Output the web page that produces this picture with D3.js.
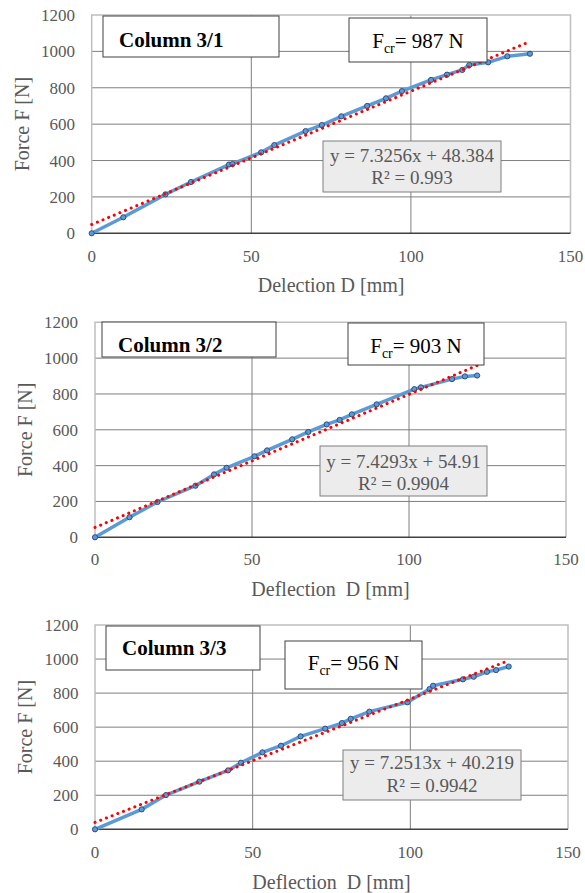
<!DOCTYPE html>
<html>
<head>
  <meta charset="utf-8">
  <script src="https://cdn.jsdelivr.net/npm/d3@7"></script>
  <style>
    body { margin: 0; background: #fff; }
    svg text { font-family: "Liberation Serif", "DejaVu Serif", serif; }
  </style>
</head>
<body>
<script>
  // Werte
  const defl1 = [0, 9.9, 23.1, 31.1, 43.0, 44.1, 53.1, 57.2, 67.0, 72.1, 78.2, 86.3, 92.2, 97.2, 106.3, 111.3, 116.1, 118.3, 124.2, 130.2, 137.3];
  const force1 = [0, 88, 214, 282, 378, 381, 445, 485, 562, 595, 643, 700, 742, 782, 843, 872, 898, 925, 940, 973, 987];

  const defl2 = [0, 11.0, 19.9, 32.0, 37.9, 41.9, 50.8, 54.8, 62.8, 67.9, 73.8, 77.9, 81.8, 89.7, 101.7, 103.8, 113.7, 117.8, 121.7];
  const force2 = [0, 112, 197, 288, 351, 388, 452, 485, 547, 588, 630, 655, 686, 742, 827, 837, 883, 898, 903];

  const defl3 = [0, 14.8, 22.5, 33.1, 42.2, 46.3, 53.1, 59.0, 65.2, 73.0, 78.3, 81.1, 87.0, 99.1, 106.1, 107.2, 116.7, 120.1, 124.3, 127.2, 131.2];
  const force3 = [0, 117, 201, 280, 346, 391, 452, 491, 546, 591, 624, 649, 691, 746, 824, 843, 881, 896, 925, 935, 956];

  const titles = ["Column 3/1", "Column 3/2", "Column 3/3"];
  const xTitles = ["Delection D [mm]", "Deflection  D [mm]", "Deflection  D [mm]"];
  const fcrValues = [987, 903, 956];
  const slopes = [7.3256, 7.4293, 7.2513];
  const intercepts = [48.384, 54.91, 40.219];
  const slopeLabels = ["7.3256", "7.4293", "7.2513"];
  const interceptLabels = ["48.384", "54.91", "40.219"];
  const r2Labels = ["0.993", "0.9904", "0.9942"];

  const xTicks = [0, 50, 100, 150];
  const yTicks = [0, 200, 400, 600, 800, 1000, 1200];

  // Layout pro Diagramm (Pixel)
  const layouts = [
    { left: 91.7, right: 570.5, top: 15, bottom: 233.3, tickY: 262, titleY: 292, yTickX: 75, yTitleX: 22,
      tBox: [103, 16, 176, 41], tBase: 47, fBox: [349, 18, 138, 44], fBase: 48,
      eBox: [323, 141, 178, 51], eBase: [162, 184] },
    { left: 95, right: 566, top: 322.3, bottom: 537.3, tickY: 565, titleY: 596, yTickX: 78, yTitleX: 25,
      tBox: [102, 322, 174, 35], tBase: 352, fBox: [348, 323, 136, 42], fBase: 353,
      eBox: [320, 446, 167, 50], eBase: [468, 490] },
    { left: 95, right: 568, top: 625, bottom: 829.3, tickY: 858, titleY: 889, yTickX: 78.5, yTitleX: 25,
      tBox: [106, 626, 154, 44], tBase: 655, fBox: [285, 641, 137, 48], fBase: 670,
      eBox: [343, 750, 178, 50], eBase: [769, 792] }
  ];

  const series = [[defl1, force1], [defl2, force2], [defl3, force3]];

  const svg = d3.select("body").append("svg")
    .attr("width", 585)
    .attr("height", 893)
    .attr("font-family", "Liberation Serif, DejaVu Serif, serif");

  series.forEach(function (s, i) {
    const L = layouts[i];
    const data = s[0].map(function (d, j) { return { x: d, y: s[1][j] }; });

    const x = d3.scaleLinear().domain([0, 150]).range([L.left, L.right]);
    const y = d3.scaleLinear().domain([0, 1200]).range([L.bottom, L.top]);

    const g = svg.append("g");

    // Gitterlinien
    g.selectAll(".hgrid")
      .data(yTicks.slice(1, -1))
      .enter().append("line")
      .attr("x1", L.left).attr("x2", L.right)
      .attr("y1", function (d) { return y(d); })
      .attr("y2", function (d) { return y(d); })
      .attr("stroke", "#7f7f7f").attr("stroke-width", 1);

    g.selectAll(".vgrid")
      .data(xTicks.slice(1, -1))
      .enter().append("line")
      .attr("y1", L.top).attr("y2", L.bottom)
      .attr("x1", function (d) { return x(d); })
      .attr("x2", function (d) { return x(d); })
      .attr("stroke", "#7f7f7f").attr("stroke-width", 1);

    // Rahmen
    g.append("path")
      .attr("d", "M" + L.left + "," + L.bottom + "V" + L.top + "H" + L.right + "V" + L.bottom)
      .attr("fill", "none").attr("stroke", "#bfbfbf").attr("stroke-width", 1.5);
    g.append("line")
      .attr("x1", L.left).attr("x2", L.right)
      .attr("y1", L.bottom).attr("y2", L.bottom)
      .attr("stroke", "#404040").attr("stroke-width", 1.5);

    // Achsenbeschriftungen
    g.selectAll(".xt")
      .data(xTicks)
      .enter().append("text")
      .attr("x", function (d) { return x(d); })
      .attr("y", L.tickY)
      .attr("text-anchor", "middle")
      .attr("font-size", "17px")
      .attr("fill", "#595959")
      .text(function (d) { return d; });

    g.selectAll(".yt")
      .data(yTicks)
      .enter().append("text")
      .attr("x", L.yTickX)
      .attr("y", function (d) { return y(d) + 6; })
      .attr("text-anchor", "end")
      .attr("font-size", "17px")
      .attr("fill", "#595959")
      .text(function (d) { return d; });

    g.append("text")
      .attr("x", (L.left + L.right) / 2)
      .attr("y", L.titleY)
      .attr("text-anchor", "middle")
      .attr("font-size", "20px")
      .attr("fill", "#595959")
      .style("white-space", "pre")
      .text(xTitles[i]);

    g.append("text")
      .attr("transform", "translate(" + (L.yTitleX + 7) + "," + ((L.top + L.bottom) / 2) + ") rotate(-90)")
      .attr("text-anchor", "middle")
      .attr("font-size", "20px")
      .attr("fill", "#595959")
      .text("Force F [N]");

    // Messkurve
    const line = d3.line()
      .x(function (d) { return x(d.x); })
      .y(function (d) { return y(d.y); });

    g.append("path")
      .datum(data)
      .attr("d", line)
      .attr("fill", "none")
      .attr("stroke", "#5b9bd5")
      .attr("stroke-width", 3.5)
      .attr("stroke-linejoin", "round");

    g.selectAll(".pt")
      .data(data)
      .enter().append("circle")
      .attr("cx", function (d) { return x(d.x); })
      .attr("cy", function (d) { return y(d.y); })
      .attr("r", 2.6)
      .attr("fill", "#5b9bd5")
      .attr("stroke", "#264478")
      .attr("stroke-width", 0.9);

    // lineare Trendlinie
    const xMax = d3.max(s[0]);
    const trend = [0, xMax].map(function (d) { return { x: d, y: slopes[i] * d + intercepts[i] }; });
    g.append("path")
      .datum(trend)
      .attr("d", line)
      .attr("fill", "none")
      .attr("stroke", "#ff0000")
      .attr("stroke-width", 3)
      .attr("stroke-linecap", "round")
      .attr("stroke-dasharray", "0.1,6");

    // Titelbox
    g.append("rect")
      .attr("x", L.tBox[0]).attr("y", L.tBox[1])
      .attr("width", L.tBox[2]).attr("height", L.tBox[3])
      .attr("fill", "#fff").attr("stroke", "#404040").attr("stroke-width", 1);
    g.append("text")
      .attr("x", L.tBox[0] + 16)
      .attr("y", L.tBase)
      .attr("font-size", "21px")
      .attr("font-weight", "bold")
      .attr("fill", "#000")
      .text(titles[i]);

    // F_cr Box
    g.append("rect")
      .attr("x", L.fBox[0]).attr("y", L.fBox[1])
      .attr("width", L.fBox[2]).attr("height", L.fBox[3])
      .attr("fill", "#fff").attr("stroke", "#404040").attr("stroke-width", 1);
    const ft = g.append("text")
      .attr("x", L.fBox[0] + L.fBox[2] / 2)
      .attr("y", L.fBase)
      .attr("text-anchor", "middle")
      .attr("font-size", "21px")
      .attr("fill", "#000");
    ft.append("tspan").text("F");
    ft.append("tspan").attr("font-size", "14px").attr("dy", 5).text("cr");
    ft.append("tspan").attr("dy", -5).text("= " + fcrValues[i] + " N");

    // Gleichungsbox
    g.append("rect")
      .attr("x", L.eBox[0]).attr("y", L.eBox[1])
      .attr("width", L.eBox[2]).attr("height", L.eBox[3])
      .attr("fill", "#ececec").attr("stroke", "#7f7f7f").attr("stroke-width", 1);
    g.append("text")
      .attr("x", L.eBox[0] + L.eBox[2] / 2)
      .attr("y", L.eBase[0])
      .attr("text-anchor", "middle")
      .attr("font-size", "19px")
      .attr("fill", "#595959")
      .text("y = " + slopeLabels[i] + "x + " + interceptLabels[i]);
    g.append("text")
      .attr("x", L.eBox[0] + L.eBox[2] / 2)
      .attr("y", L.eBase[1])
      .attr("text-anchor", "middle")
      .attr("font-size", "19px")
      .attr("fill", "#595959")
      .text("R² = " + r2Labels[i]);
  });
</script>
</body>
</html>
